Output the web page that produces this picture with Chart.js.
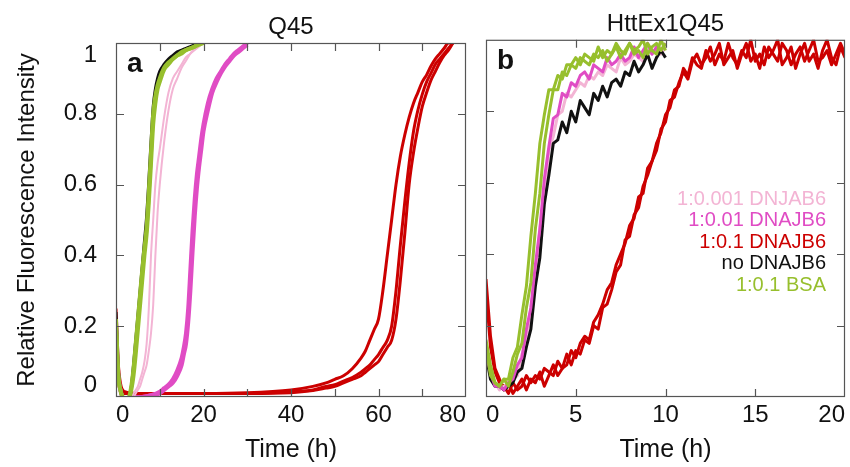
<!DOCTYPE html>
<html>
<head>
<meta charset="utf-8">
<script src="https://cdn.jsdelivr.net/npm/chart.js@4.4.1/dist/chart.umd.min.js"></script>
<style>
  html, body { margin: 0; padding: 0; background: #ffffff; }
  #wrap { position: relative; width: 850px; height: 467px; overflow: hidden; background: #fff; }
  #cA { position: absolute; left: 0; top: 0; }
  #cB { position: absolute; left: 478px; top: 0; }
</style>
</head>
<body>
<div id="wrap">
  <canvas id="cA" width="478" height="467"></canvas>
  <canvas id="cB" width="372" height="467"></canvas>
</div>
<script>
// ---------------- DATA ----------------
const titleA = 'Q45';
const titleB = 'HttEx1Q45';
const letterA = 'a';
const letterB = 'b';
const xTitle = 'Time (h)';
const yTitle = 'Relative Fluorescence Intensity';
const yTickLabels = ['0', '0.2', '0.4', '0.6', '0.8', '1'];
const xTickLabelsA = ['0', '', '20', '', '40', '', '60', '', '80'];
const xTickLabelsB = ['0', '5', '10', '15', '20'];
const legendNames = ['1:0.001 DNJAB6', '1:0.01 DNAJB6', '1:0.1 DNAJB6', 'no DNAJB6', '1:0.1 BSA'];

// Panel a (Q45) — time in hours
const tA_fast = [0,0.5,1,1.5,2,2.5,3,3.5,4,4.5,5,5.5,6,6.5,7,7.5,8,8.5,9,9.5,10,11,12,13,14,15,16,17,18,19,20];
const a_bsa_1 = [0.22,0.07,0.02,0.0,-0.01,-0.01,0.0,0.03,0.08,0.15,0.22,0.29,0.36,0.42,0.48,0.58,0.69,0.8,0.85,0.88,0.9,0.93,0.945,0.955,0.965,0.975,0.98,0.985,0.99,1.0,1.0];
const a_bsa_2 = [0.2,0.06,0.02,0.0,-0.01,-0.015,-0.005,0.02,0.06,0.12,0.19,0.26,0.33,0.4,0.46,0.55,0.66,0.77,0.83,0.87,0.89,0.925,0.94,0.955,0.965,0.97,0.98,0.985,0.99,0.995,1.0];
const a_none   = [0.24,0.08,0.02,0.0,-0.01,-0.01,0.0,0.03,0.09,0.16,0.23,0.3,0.37,0.44,0.51,0.61,0.72,0.82,0.87,0.9,0.92,0.94,0.955,0.965,0.975,0.98,0.985,0.99,0.995,1.0,1.0];
const a_001_1  = [0.2,0.06,0.02,0.0,-0.01,-0.01,0.0,0.0,0.01,0.02,0.03,0.05,0.07,0.1,0.15,0.25,0.4,0.5,0.6,0.66,0.7,0.79,0.86,0.9,0.92,0.94,0.96,0.97,0.985,0.995,1.0];
const a_001_2  = [0.18,0.05,0.01,-0.01,-0.01,-0.01,-0.01,0.0,0.0,0.01,0.02,0.03,0.05,0.07,0.09,0.13,0.18,0.26,0.4,0.52,0.6,0.72,0.81,0.87,0.9,0.93,0.95,0.97,0.98,0.99,1.0];
const tA_mid = [0,0.5,1,2,4,6,8,10,11,12,13,14,15,15.5,16,16.5,17,17.5,18,18.5,19,19.5,20,21,22,23,24,25,26,27,28,29,30];
const a_01_1 = [0.2,0.06,0.02,-0.01,0.0,0.0,0.005,0.015,0.025,0.035,0.05,0.075,0.11,0.14,0.18,0.25,0.36,0.47,0.56,0.63,0.68,0.73,0.77,0.83,0.87,0.9,0.92,0.94,0.955,0.97,0.98,0.99,1.0];
const a_01_2 = [0.22,0.07,0.02,-0.01,-0.005,0.0,0.005,0.01,0.02,0.03,0.04,0.06,0.09,0.12,0.15,0.21,0.3,0.41,0.51,0.59,0.65,0.7,0.75,0.81,0.86,0.89,0.915,0.935,0.95,0.965,0.975,0.985,0.995];
const tA_slow = [0,0.5,1,2,5,10,20,30,40,45,48,50,52,54,56,57,58,59,60,61,62,63,64,65,66,67,68,69,70,71,72,73,74,75,76,77];
const a_1_1 = [0.25,0.1,0.04,0.015,0.01,0.01,0.01,0.012,0.02,0.03,0.04,0.05,0.06,0.08,0.11,0.13,0.16,0.19,0.22,0.3,0.4,0.5,0.6,0.68,0.74,0.79,0.83,0.86,0.89,0.91,0.935,0.955,0.97,0.985,1.0,1.0];
const a_1_2 = [0.22,0.08,0.03,0.01,0.01,0.01,0.01,0.01,0.015,0.02,0.03,0.035,0.045,0.055,0.07,0.08,0.09,0.105,0.12,0.14,0.16,0.2,0.3,0.43,0.55,0.66,0.75,0.81,0.855,0.89,0.915,0.94,0.955,0.97,0.985,1.0];
const a_1_3 = [0.2,0.07,0.03,0.01,0.01,0.01,0.01,0.01,0.012,0.018,0.025,0.03,0.04,0.05,0.06,0.07,0.08,0.09,0.1,0.12,0.14,0.16,0.22,0.33,0.46,0.6,0.69,0.76,0.82,0.86,0.895,0.92,0.945,0.965,0.98,1.0];

// Panel b (HttEx1Q45) — time in hours
const tB10 = [0,0.25,0.5,0.75,1,1.25,1.5,1.75,2,2.25,2.5,2.75,3,3.25,3.5,3.75,4,4.25,4.5,4.75,5,5.25,5.5,5.75,6,6.25,6.5,6.75,7,7.25,7.5,7.75,8,8.25,8.5,8.75,9,9.25,9.5,9.75,10];
const tB20 = [0,0.25,0.5,0.75,1,1.25,1.5,1.75,2,2.25,2.5,2.75,3,3.25,3.5,3.75,4,4.25,4.5,4.75,5,5.25,5.5,5.75,6,6.25,6.5,6.75,7,7.25,7.5,7.75,8,8.25,8.5,8.75,9,9.25,9.5,9.75,10,10.25,10.5,10.75,11,11.25,11.5,11.75,12,12.25,12.5,12.75,13,13.25,13.5,13.75,14,14.25,14.5,14.75,15,15.25,15.5,15.75,16,16.25,16.5,16.75,17,17.25,17.5,17.75,18,18.25,18.5,18.75,19,19.25,19.5,19.75,20];
const b_bsa_1 = [0.16,0.09,0.04,0.03,0.05,0.03,0.07,0.12,0.15,0.25,
                 0.32,0.47,0.57,0.71,0.79,0.86,0.86,0.91,0.90,0.93,
                 0.92,0.95,0.94,0.93,0.96,0.95,0.97,0.94,0.96,0.98,
                 0.95,0.97,0.99,0.96,0.97,0.95,0.99,0.97,0.96,1.00,
                 0.97];
const b_bsa_2 = [0.14,0.06,0.04,0.03,0.05,0.05,0.11,0.14,0.23,0.31,
                 0.45,0.57,0.71,0.79,0.86,0.86,0.90,0.89,0.93,0.93,
                 0.95,0.93,0.96,0.95,0.94,0.98,0.95,0.97,0.96,0.99,
                 0.97,0.96,0.99,0.97,0.98,1.00,0.96,0.98,0.99,0.97,
                 0.99];
const b_01 = [0.12,0.07,0.03,0.03,0.02,0.04,0.05,0.09,0.11,0.19,
              0.25,0.37,0.47,0.61,0.70,0.78,0.79,0.85,0.84,0.88,
              0.87,0.90,0.91,0.89,0.93,0.92,0.91,0.95,0.93,0.94,
              0.96,0.94,0.95,0.98,0.95,0.97,0.99,0.96,0.98,0.97,
              0.99];
const b_001 = [0.13,0.06,0.04,0.02,0.03,0.03,0.05,0.06,0.12,0.15,
               0.25,0.33,0.47,0.57,0.69,0.73,0.79,0.80,0.85,0.84,
               0.86,0.88,0.87,0.90,0.89,0.91,0.90,0.93,0.92,0.91,
               0.95,0.93,0.94,0.96,0.95,0.94,0.97,0.96,0.98,0.96,
               0.98];
const b_none = [0.12,0.05,0.03,0.03,0.02,0.03,0.04,0.07,0.08,0.14,
                0.19,0.31,0.39,0.54,0.62,0.71,0.72,0.77,0.74,0.80,
                0.77,0.83,0.81,0.79,0.85,0.83,0.87,0.84,0.88,0.89,
                0.87,0.91,0.90,0.94,0.91,0.93,0.96,0.92,0.95,0.97,
                0.95];
const b_1_1 = [0.33,0.17,0.08,0.05,0.02,0.04,0.01,0.03,0.05,0.02,
               0.05,0.04,0.07,0.03,0.06,0.09,0.06,0.08,0.12,0.09,
               0.13,0.12,0.16,0.15,0.20,0.19,0.25,0.26,0.30,0.35,
               0.37,0.44,0.45,0.51,0.53,0.59,0.62,0.66,0.71,0.74,
               0.79,0.81,0.86,0.87,0.92,0.90,0.95,0.93,0.92,0.97,
               0.94,0.96,0.99,0.93,0.95,0.97,0.92,0.96,0.99,0.94,
               0.96,0.92,0.98,0.95,0.97,1.00,0.93,0.95,0.98,0.92,
               0.96,0.99,0.94,0.96,0.92,0.97,1.00,0.95,0.93,0.98,
               0.95];
const b_1_2 = [0.30,0.14,0.07,0.04,0.03,0.01,0.04,0.02,0.03,0.06,
               0.04,0.06,0.05,0.08,0.07,0.06,0.10,0.08,0.09,0.13,
               0.11,0.15,0.17,0.16,0.21,0.23,0.26,0.30,0.32,0.37,
               0.40,0.43,0.48,0.50,0.56,0.57,0.64,0.66,0.69,0.75,
               0.77,0.83,0.84,0.88,0.91,0.89,0.94,0.96,0.93,0.95,
               0.98,0.93,0.96,0.94,0.99,0.95,0.93,0.97,0.95,1.00,
               0.94,0.96,0.93,0.98,0.96,0.94,0.99,0.97,0.93,0.96,
               0.98,0.94,0.97,1.00,0.94,0.95,0.97,0.93,0.96,0.99,
               0.96];

// ---------------- STYLE ----------------
const FONT = "'Liberation Sans', Arial, Helvetica, sans-serif";
const C = { pink: '#f3b4d4', magenta: '#e04cc4', red: '#cc0000', black: '#111111', green: '#97bf2d' };
const legendColors = [C.pink, C.magenta, C.red, C.black, C.green];

function pts(t, v) { return v.map((y, i) => ({ x: t[i], y: y })); }
function ds(label, t, v, color, width, order, smooth) {
  return {
    label, data: pts(t, v), borderColor: color, backgroundColor: color,
    borderWidth: width, pointRadius: 0, order: order, fill: false,
    borderJoinStyle: 'round',
    tension: smooth ? 0.4 : 0, cubicInterpolationMode: smooth ? 'monotone' : 'default'
  };
}

const framePlugin = {
  id: 'frame',
  afterDatasetsDraw(chart, args, opts) {
    const { ctx, chartArea: a } = chart;
    const xs = chart.scales.x, ys = chart.scales.y;
    ctx.save();
    ctx.strokeStyle = '#555555';
    ctx.lineWidth = 1.2;
    ctx.strokeRect(a.left + 0.5, a.top + 0.5, a.right - a.left - 1, a.bottom - a.top - 1);
    const L = 8;
    ctx.beginPath();
    xs.ticks.forEach(tk => {
      const px = Math.round(xs.getPixelForValue(tk.value)) + 0.5;
      if (px <= a.left + 1 || px >= a.right - 1) return;
      ctx.moveTo(px, a.bottom); ctx.lineTo(px, a.bottom - L);
      ctx.moveTo(px, a.top); ctx.lineTo(px, a.top + L);
    });
    ys.ticks.forEach(tk => {
      const py = Math.round(ys.getPixelForValue(tk.value)) + 0.5;
      if (py <= a.top + 1 || py >= a.bottom - 1) return;
      ctx.moveTo(a.left, py); ctx.lineTo(a.left + L, py);
      ctx.moveTo(a.right, py); ctx.lineTo(a.right - L, py);
    });
    ctx.stroke();
    // panel letter
    ctx.fillStyle = '#111111';
    ctx.font = 'bold 28px ' + FONT;
    ctx.textAlign = 'left';
    ctx.textBaseline = 'middle';
    ctx.fillText(opts.letter, a.left + 11, a.top + 21);
    // legend text
    if (opts.legend) {
      ctx.font = '20px ' + FONT;
      ctx.textAlign = 'right';
      opts.legend.forEach((name, i) => {
        ctx.fillStyle = legendColors[i];
        ctx.fillText(name, a.right - 19, 199 + i * 21.5);
      });
    }
    ctx.restore();
  }
};

function makeOptions(opt) {
  return {
    responsive: false,
    animation: false,
    devicePixelRatio: 1,
    layout: { padding: { left: 0, right: opt.padRight, top: 0, bottom: 0 } },
    plugins: {
      legend: { display: false },
      tooltip: { enabled: false },
      title: {
        display: true, text: opt.title, fullSize: false, color: '#111111',
        font: { family: FONT, size: 24, weight: 'normal' },
        padding: { top: 10, bottom: 1 }
      },
      frame: { letter: opt.letter, legend: opt.legend }
    },
    scales: {
      x: {
        type: 'linear', position: 'bottom', min: 0, max: opt.xMax,
        grid: { display: false, drawTicks: false },
        border: { display: false },
        ticks: {
          stepSize: opt.xStep, autoSkip: false, maxRotation: 0, align: 'inner',
          padding: 4, color: '#111111', font: { family: FONT, size: 24 },
          callback: (v, i) => opt.xLabels[i]
        },
        title: {
          display: true, text: xTitle, color: '#111111',
          font: { family: FONT, size: 25 }, padding: { top: 0, bottom: 2 }
        },
        afterFit: s => { s.height = 70; }
      },
      y: {
        type: 'linear', position: 'left', min: 0, max: 1,
        grid: { display: false, drawTicks: false },
        border: { display: false },
        ticks: {
          display: opt.yLabels, stepSize: 0.2, padding: 19, color: '#111111',
          font: { family: FONT, size: 24, lineHeight: 1.0 },
          callback: (v, i) => {
            const s = yTickLabels[i];
            if (i === 0) return [s, ''];
            if (i === yTickLabels.length - 1) return ['', s];
            return s;
          }
        },
        title: {
          display: opt.yLabels, text: yTitle, color: '#111111',
          font: { family: FONT, size: 24 }, padding: { top: 13, bottom: 0 }
        },
        afterFit: s => { s.width = opt.yWidth; }
      }
    }
  };
}

new Chart(document.getElementById('cA'), {
  type: 'line',
  data: {
    datasets: [
      ds('1:0.1 BSA', tA_fast, a_bsa_1, C.green, 4, 0, true),
      ds('1:0.1 BSA', tA_fast, a_bsa_2, C.green, 4, 1, true),
      ds('no DNAJB6', tA_fast, a_none, C.black, 3, 2, true),
      ds('1:0.001 DNJAB6', tA_fast, a_001_1, C.pink, 2, 3, true),
      ds('1:0.001 DNJAB6', tA_fast, a_001_2, C.pink, 2, 4, true),
      ds('1:0.01 DNAJB6', tA_mid, a_01_1, C.magenta, 4, 5, true),
      ds('1:0.01 DNAJB6', tA_mid, a_01_2, C.magenta, 4, 6, true),
      ds('1:0.1 DNAJB6', tA_slow, a_1_1, C.red, 3, 7, true),
      ds('1:0.1 DNAJB6', tA_slow, a_1_2, C.red, 3, 8, true),
      ds('1:0.1 DNAJB6', tA_slow, a_1_3, C.red, 3, 9, true)
    ]
  },
  options: makeOptions({ title: titleA, letter: letterA, legend: null, xMax: 80, xStep: 10, xLabels: xTickLabelsA, yLabels: true, yWidth: 116, padRight: 12 }),
  plugins: [framePlugin]
});

new Chart(document.getElementById('cB'), {
  type: 'line',
  data: {
    datasets: [
      ds('1:0.1 BSA', tB10, b_bsa_1, C.green, 3, 0, false),
      ds('1:0.1 BSA', tB10, b_bsa_2, C.green, 3, 1, false),
      ds('1:0.01 DNAJB6', tB10, b_01, C.magenta, 3, 2, false),
      ds('no DNAJB6', tB10, b_none, C.black, 3, 3, false),
      ds('1:0.001 DNJAB6', tB10, b_001, C.pink, 3, 4, false),
      ds('1:0.1 DNAJB6', tB20, b_1_1, C.red, 3, 5, false),
      ds('1:0.1 DNAJB6', tB20, b_1_2, C.red, 3, 6, false)
    ]
  },
  options: makeOptions({ title: titleB, letter: letterB, legend: legendNames, xMax: 20, xStep: 5, xLabels: xTickLabelsB, yLabels: false, yWidth: 8, padRight: 5 }),
  plugins: [framePlugin]
});
</script>
</body>
</html>
